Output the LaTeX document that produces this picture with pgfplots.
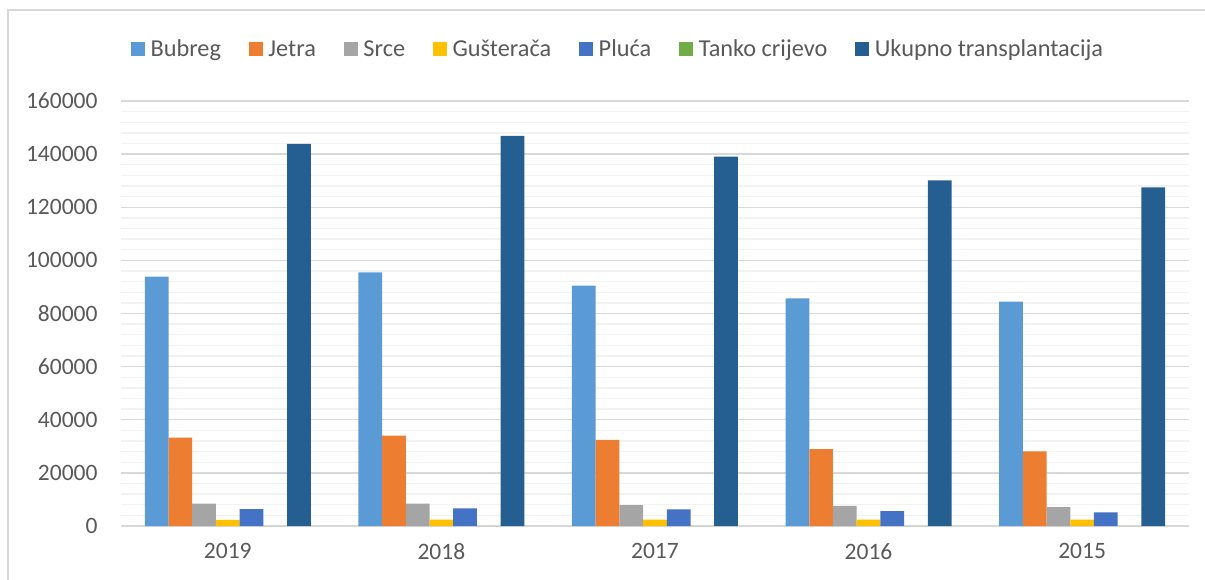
\documentclass[border=0pt]{standalone}
\usepackage{fontspec}
\setmainfont{Carlito}
\usepackage{pgfplots}
\pgfplotsset{compat=1.18}
\definecolor{c1}{HTML}{5B9BD5}
\definecolor{c2}{HTML}{ED7D31}
\definecolor{c3}{HTML}{A5A5A5}
\definecolor{c4}{HTML}{FFC000}
\definecolor{c5}{HTML}{4472C4}
\definecolor{c6}{HTML}{70AD47}
\definecolor{c7}{HTML}{255E91}
\definecolor{txt}{RGB}{89,89,89}
\definecolor{gridmaj}{RGB}{217,217,217}
\definecolor{gridmin}{RGB}{242,242,242}
\begin{document}
\begin{tikzpicture}
\path[use as bounding box] (-121bp,-54bp) rectangle (1084bp,526bp);
\begin{axis}[
  at={(0,0)}, anchor=south west,
  scale only axis, width=1068bp, height=425bp,
  xmin=-0.5, xmax=4.5, ymin=0, ymax=160000,
  ybar=0pt, bar width=0.111,
  xtick={0,1,2,3,4}, xticklabels={2019,2018,2017,2016,2015},
  ytick={0,20000,...,160000}, minor y tick num=4,
  ymajorgrids, yminorgrids,
  major grid style={color=gridmaj, line width=1.3bp},
  minor grid style={color=gridmin, line width=1.3bp},
  extra y ticks={0}, extra y tick labels={},
  extra y tick style={grid style={color=gridmaj, line width=2.2bp}},
  axis line style={draw=none},
  major tick length=0pt, minor tick length=0pt,
  scaled y ticks=false,
  /pgf/number format/assume math mode=true,
  yticklabel style={/pgf/number format/fixed, /pgf/number format/1000 sep={}, xshift=-20bp},
  xticklabel style={yshift=-14bp},
  tick label style={font=\fontsize{23.5bp}{27bp}\selectfont, text=txt},
  enlargelimits=false,
  every axis plot post/.append style={legend image code/.code={\path[#1] (0bp,-7bp) rectangle (14bp,7bp);}},
  legend columns=7,
  legend cell align=left,
  legend style={draw=none, fill=none, at={(0.4655,1.1224)}, anchor=center,
    font=\fontsize{24.3bp}{28bp}\selectfont, text=txt,
    nodes={inner sep=2bp},
    /tikz/every odd column/.append style={column sep=3.5bp},
    /tikz/every even column/.append style={column sep=26bp}},
]
\addplot[fill=c1, draw=none] coordinates {(0,93900) (1,95500) (2,90500) (3,85700) (4,84500)};
\addplot[fill=c2, draw=none] coordinates {(0,33300) (1,34000) (2,32400) (3,28900) (4,28100)};
\addplot[fill=c3, draw=none] coordinates {(0,8400) (1,8400) (2,7900) (3,7600) (4,7100)};
\addplot[fill=c4, draw=none] coordinates {(0,2300) (1,2400) (2,2400) (3,2400) (4,2400)};
\addplot[fill=c5, draw=none] coordinates {(0,6400) (1,6600) (2,6300) (3,5600) (4,5100)};
\addplot[fill=c6, draw=none] coordinates {(0,0) (1,0) (2,0) (3,0) (4,0)};
\addplot[fill=c7, draw=none] coordinates {(0,143900) (1,146900) (2,139100) (3,130100) (4,127500)};
\legend{Bubreg,Jetra,Srce,Gušterača,Pluća,Tanko crijevo,Ukupno transplantacija}
\end{axis}
\draw[color=gridmaj, line width=1.5bp] (-113bp,-60bp) -- (-113bp,516bp) -- (1090bp,516bp);
\end{tikzpicture}
\end{document}
